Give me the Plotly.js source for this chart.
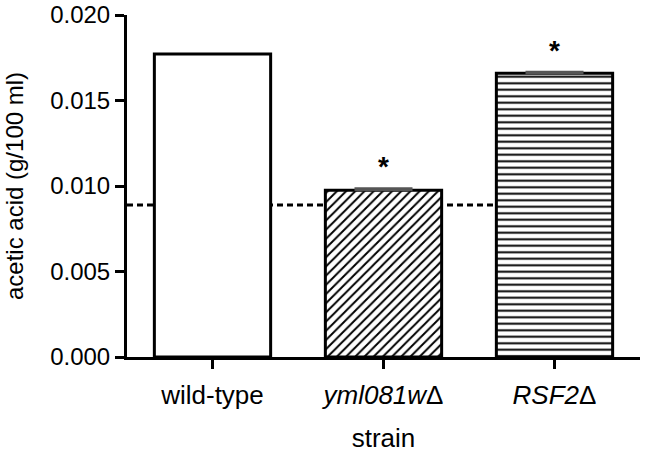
<!DOCTYPE html>
<html>
<head>
<meta charset="utf-8">
<script src="https://cdn.plot.ly/plotly-3.0.1.min.js"></script>
<style>html,body{margin:0;padding:0;background:#fff;}#chart{width:647px;height:455px;}</style>
</head>
<body>
<div id="chart"></div>
<script>
const categories = ["wild-type", "<i>yml081w</i>Δ", "<i>RSF2</i>Δ"];
const values = [0.01772, 0.00975, 0.01660];
const errors = [null, 0.00012, 0.00008];
const patterns = ["", "/", "-"];
const significance = ["", "*", "*"];
const referenceLevel = [0.00889];
const yTickVals = [0, 0.005, 0.010, 0.015, 0.020];
const yTickText = ["0.000", "0.005", "0.010", "0.015", "0.020"];

const font = "Liberation Sans, Arial, sans-serif";

const bar = {
  type: "bar",
  x: categories,
  y: values,
  width: 0.68,
  marker: {
    color: "white",
    line: {color: "black", width: 3},
    pattern: {shape: patterns, fgcolor: "black", bgcolor: "white", size: 6.5, solidity: 0.3}
  },
  hoverinfo: "none"
};

const withErr = categories.map((c, i) => i).filter(i => errors[i] != null);
const errTrace = {
  type: "scatter", mode: "markers",
  x: withErr.map(i => categories[i]),
  y: withErr.map(i => values[i]),
  marker: {size: 0.1, opacity: 0},
  error_y: {type: "data", array: withErr.map(i => errors[i]), arrayminus: withErr.map(() => 0), symmetric: false, visible: true, color: "#555", thickness: 2, width: 29},
  hoverinfo: "none"
};

const annotations = categories.map((c, i) => ({
  x: c, y: values[i] + (errors[i] || 0), xref: "x", yref: "y",
  text: significance[i] ? "<b>" + significance[i] + "</b>" : "", showarrow: false, yanchor: "bottom", yshift: 4,
  font: {family: font, size: 28, color: "black"}
})).filter(a => a.text);

const layout = {
  width: 647, height: 455,
  margin: {l: 127, r: 7, t: 15, b: 98},
  paper_bgcolor: "white", plot_bgcolor: "white",
  showlegend: false,
  font: {family: font, color: "black"},
  xaxis: {
    range: [-0.5, 2.5],
    showline: true, linecolor: "black", linewidth: 3,
    ticks: "outside", ticklen: 9, tickwidth: 3, tickcolor: "black",
    tickfont: {family: font, size: 26},
    ticklabelstandoff: 4,
    title: {text: "strain", font: {family: font, size: 26}, standoff: 20},
    showgrid: false, zeroline: false
  },
  yaxis: {
    range: [0, 0.020],
    tickvals: yTickVals, ticktext: yTickText,
    showline: true, linecolor: "black", linewidth: 3,
    ticks: "outside", ticklen: 9, tickwidth: 3, tickcolor: "black",
    tickfont: {family: font, size: 24},
    title: {text: "acetic acid (g/100 ml)", font: {family: font, size: 24}, standoff: 20},
    showgrid: false, zeroline: false
  },
  shapes: [{
    type: "line", layer: "below", xref: "paper", yref: "y",
    x0: 0, x1: 0.94, y0: referenceLevel[0], y1: referenceLevel[0],
    line: {color: "black", width: 3, dash: "6px,4px"}
  }],
  annotations: annotations
};

Plotly.newPlot("chart", [bar, errTrace], layout, {displayModeBar: false, staticPlot: true});
</script>
</body>
</html>
